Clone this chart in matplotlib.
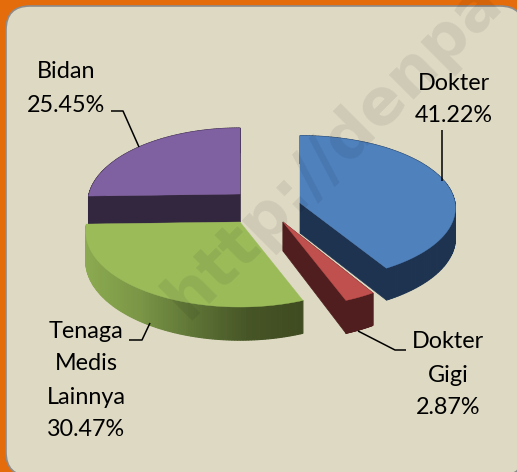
import numpy as np
import matplotlib
matplotlib.use("Agg")
import matplotlib.pyplot as plt
from matplotlib.patches import FancyBboxPatch, Polygon
from matplotlib.colors import to_rgb

plt.rcParams['font.family'] = ['Lato', 'DejaVu Sans']

# Chart data
categories = ["Dokter", "Dokter Gigi", "Tenaga Medis Lainnya", "Bidan"]
values = [41.22, 2.87, 30.47, 25.45]
top_colors = ["#4F81BD", "#C0504D", "#9BBB59", "#7F60A0"]
side_colors = ["#1D3350", "#501E1E", None, "#33263F"]
green_rim = ["#8CAA50", "#7A9646", "#5E7436", "#465526", "#3F4B20"]

# slice centre in pixels, x radius, y radius, perspective, depth
slice_style = {
    "Dokter": (300, 203, 155, 72, 0.07, 30),
    "Dokter Gigi": (283, 222, 153, 74.3, 0.126, 29),
    "Tenaga Medis Lainnya": (240, 222, 153, 74.3, 0.126, 29),
    "Bidan": (240, 194, 151, 74.3, 0.126, 28),
}


def project(theta, style):
    """Angle clockwise from 12 o'clock to pixels, with simple perspective."""
    cx, cy, rx, ry, p, depth = style
    u = np.sin(theta)
    v = -np.cos(theta)
    s = 1 / (1 - p * v)
    return cx + rx * u * s, cy + ry * v * s, depth * s


def draw_slice(ax, start, end, top, side, style):
    thetas = np.linspace(start, end, 120)
    xs, ys, ds = project(thetas, style)
    cx, cy, depth = style[0], style[1], style[5]
    # cut faces
    if side is not None:
        for x, y, d in [(xs[0], ys[0], ds[0]), (xs[-1], ys[-1], ds[-1])]:
            ax.add_patch(Polygon([(cx, cy), (x, y), (x, y + d), (cx, cy + depth)],
                                 closed=True, fc=side, ec=side, lw=0.5))
    # outer rim, segment by segment so green can be shaded
    for i in range(len(xs) - 1):
        if side is None:
            f = (xs[i] - xs.min()) / (xs.max() - xs.min())
            stops = np.array([to_rgb(c) for c in green_rim])
            pos = np.linspace(0, 1, len(green_rim))
            col = [np.interp(f, pos, stops[:, k]) for k in range(3)]
        else:
            col = side
        ax.add_patch(Polygon([(xs[i], ys[i]), (xs[i + 1], ys[i + 1]),
                              (xs[i + 1], ys[i + 1] + ds[i + 1]), (xs[i], ys[i] + ds[i])],
                             closed=True, fc=col, ec=col, lw=0.8))
    ax.add_patch(Polygon([(cx, cy)] + list(zip(xs, ys)), closed=True, fc=top, ec=top, lw=0.3))


fig = plt.figure(figsize=(5.17, 4.72), dpi=100, facecolor="#E46C0A")
ax = fig.add_axes([0, 0, 1, 1])
ax.set_xlim(0, 517)
ax.set_ylim(472, 0)
ax.axis('off')

# panel
ax.add_patch(FancyBboxPatch((6, 6), 518, 470, boxstyle="round,pad=0,rounding_size=24",
                            fc="#DDD9C3", ec="#8C8C8C", lw=1.2))

# slices
angles = np.cumsum([0] + values) / 100 * 2 * np.pi
order = [3, 2, 0, 1]
for i in order:
    draw_slice(ax, angles[i], angles[i + 1], top_colors[i], side_colors[i],
               slice_style[categories[i]])

# watermark
ax.text(333, 150, "http://denpa", rotation=45, rotation_mode='anchor', ha='center', va='center',
        fontsize=46, fontweight='bold', family='DejaVu Sans', color='black', alpha=0.07)

# labels
fs = 16.8
labels = [
    (66, ["Bidan", "25.45%"], [71, 105]),
    (454, ["Dokter", "41.22%"], [83, 115]),
    (86, ["Tenaga", "Medis", "Lainnya", "30.47%"], [331, 364, 397, 429]),
    (448, ["Dokter", "Gigi", "2.87%"], [342, 375, 407]),
]
for x, lines, ys in labels:
    for line, y in zip(lines, ys):
        ax.text(x, y, line, ha='center', va='center', fontsize=fs, color='black')

leaders = [
    ([111, 123, 139], [111, 111, 147]),
    ([442, 442], [130, 181]),
    ([129, 142, 150], [340, 340, 323]),
    ([358, 395, 406], [331, 350, 350]),
]
for lx, ly in leaders:
    ax.plot(lx, ly, color='black', lw=1.1, solid_capstyle='butt')

fig.savefig("out.png", dpi=100, facecolor=fig.get_facecolor())
